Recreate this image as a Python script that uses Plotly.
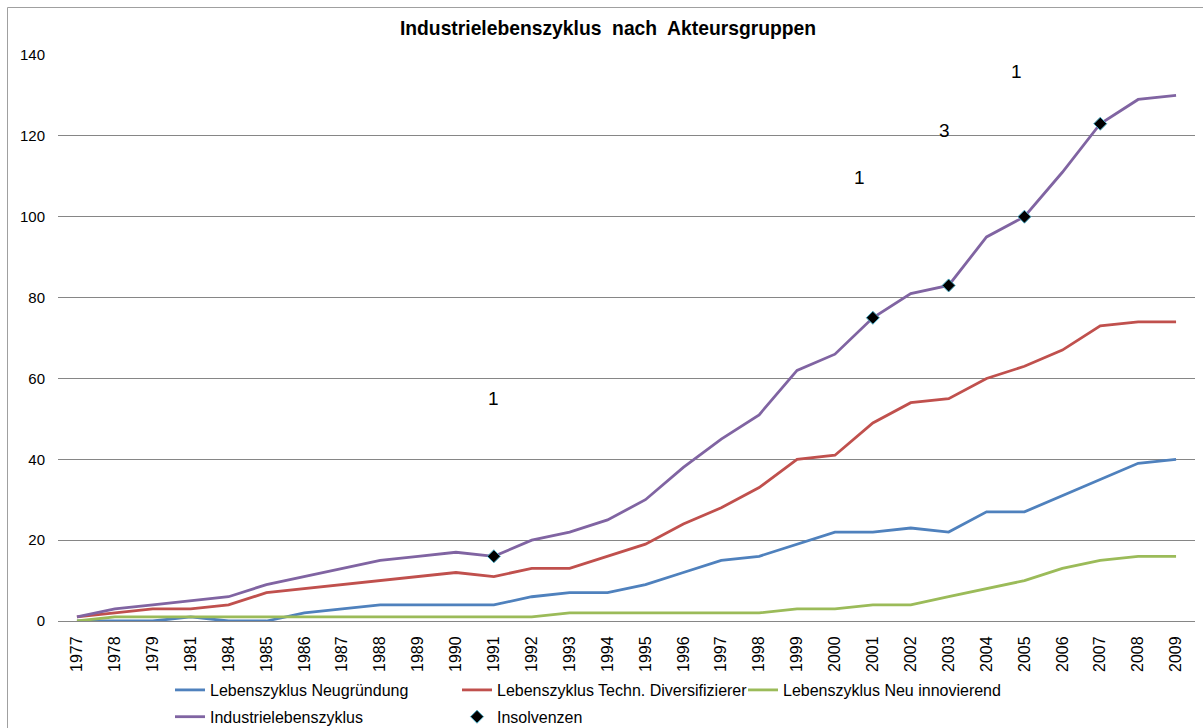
import plotly.graph_objects as go

years = ["1977", "1978", "1979", "1981", "1984", "1985", "1986", "1987", "1988", "1989",
         "1990", "1991", "1992", "1993", "1994", "1995", "1996", "1997", "1998", "1999",
         "2000", "2001", "2002", "2003", "2004", "2005", "2006", "2007", "2008", "2009"]

neugruendung = [0, 0, 0, 1, 0, 0, 2, 3, 4, 4, 4, 4, 6, 7, 7, 9, 12, 15, 16, 19,
                22, 22, 23, 22, 27, 27, 31, 35, 39, 40]
diversifizierer = [1, 2, 3, 3, 4, 7, 8, 9, 10, 11, 12, 11, 13, 13, 16, 19, 24, 28, 33, 40,
                   41, 49, 54, 55, 60, 63, 67, 73, 74, 74]
neu_innovierend = [0, 1, 1, 1, 1, 1, 1, 1, 1, 1, 1, 1, 1, 2, 2, 2, 2, 2, 2, 3,
                   3, 4, 4, 6, 8, 10, 13, 15, 16, 16]
industrie = [1, 3, 4, 5, 6, 9, 11, 13, 15, 16, 17, 16, 20, 22, 25, 30, 38, 45, 51, 62,
             66, 75, 81, 83, 95, 100, 111, 123, 129, 130]

insolvenz_years = ["1991", "2001", "2003", "2005", "2007"]
insolvenz_values = [industrie[years.index(y)] for y in insolvenz_years]

label_years = ["1991", "2001", "2003", "2005"]
label_texts = ["1", "1", "3", "1"]
label_y = [55, 109.8, 121.3, 136]
label_xshift = [0, -13, -4, -8]

FONT = "Arial, Liberation Sans, sans-serif"
L, R, T, B = 58, 8, 55, 107
W, H = 1203, 728
PW = W - L - R
PH = H - T - B


def px_x(p):
    return (p - L) / PW


def px_y(p):
    return (H - B - p) / PH


LW = 2.8
fig = go.Figure()
fig.add_trace(go.Scatter(x=years, y=neugruendung, mode="lines", name="Lebenszyklus Neugründung",
                         line=dict(color="#4F81BD", width=LW), legend="legend", legendgroup="a"))
fig.add_trace(go.Scatter(x=years, y=diversifizierer, mode="lines", name="Lebenszyklus Techn. Diversifizierer",
                         line=dict(color="#C0504D", width=LW), legend="legend2", legendgroup="b"))
fig.add_trace(go.Scatter(x=years, y=neu_innovierend, mode="lines", name="Lebenszyklus Neu innovierend",
                         line=dict(color="#9BBB59", width=LW), legend="legend3", legendgroup="c"))
fig.add_trace(go.Scatter(x=years, y=industrie, mode="lines", name="Industrielebenszyklus",
                         line=dict(color="#8064A2", width=LW), legend="legend", legendgroup="d"))
fig.add_trace(go.Scatter(x=insolvenz_years, y=insolvenz_values, mode="markers", name="Insolvenzen",
                         marker=dict(symbol="diamond", color="black", size=10,
                                     line=dict(color="#4BACC6", width=1)),
                         legend="legend2", legendgroup="e"))

for yr, txt, yv, xs in zip(label_years, label_texts, label_y, label_xshift):
    fig.add_annotation(x=years.index(yr), y=yv, text=txt, showarrow=False, xshift=xs,
                       font=dict(family=FONT, size=19, color="black"))

legend_common = dict(orientation="v", yanchor="top", xanchor="left", bgcolor="rgba(0,0,0,0)",
                     font=dict(family=FONT, size=16, color="black"), tracegroupgap=3,
                     borderwidth=0)

fig.update_layout(
    width=W, height=H,
    margin=dict(l=L, r=R, t=T, b=B, autoexpand=False),
    paper_bgcolor="white", plot_bgcolor="white",
    font=dict(family=FONT, color="black"),
    showlegend=True,
    title=dict(text="<b>Industrielebenszyklus  nach  Akteursgruppen</b>",
               x=608 / W, xref="container", xanchor="center",
               y=1 - 28 / H, yref="container", yanchor="middle",
               font=dict(family=FONT, size=19.3, color="black")),
    xaxis=dict(type="category", range=[-0.5, len(years) - 0.5], tickangle=-90,
               showgrid=False, showline=True,
               linecolor="#868686", linewidth=1, ticks="", ticklabelstandoff=8,
               tickfont=dict(family=FONT, size=16, color="black"), fixedrange=True),
    yaxis=dict(range=[0, 140], dtick=20, showgrid=True, gridcolor="#868686", gridwidth=1,
               zeroline=False, showline=False, ticks="", ticklabelstandoff=12,
               tickfont=dict(family=FONT, size=15, color="black"), fixedrange=True),
    legend=dict(x=px_x(170), y=px_y(673), **legend_common),
    legend2=dict(x=px_x(457), y=px_y(673), **legend_common),
    legend3=dict(x=px_x(743), y=px_y(673), **legend_common),
    shapes=[dict(type="rect", xref="paper", yref="paper",
                 x0=px_x(7.5), x1=px_x(1215), y0=px_y(740), y1=px_y(7.5),
                 line=dict(color="#A0A0A0", width=1), fillcolor="rgba(0,0,0,0)", layer="below")],
)

fig.write_html("out.html", config={"displayModeBar": False},
               post_script="document.body.style.margin='0';document.body.style.overflow='hidden';")
